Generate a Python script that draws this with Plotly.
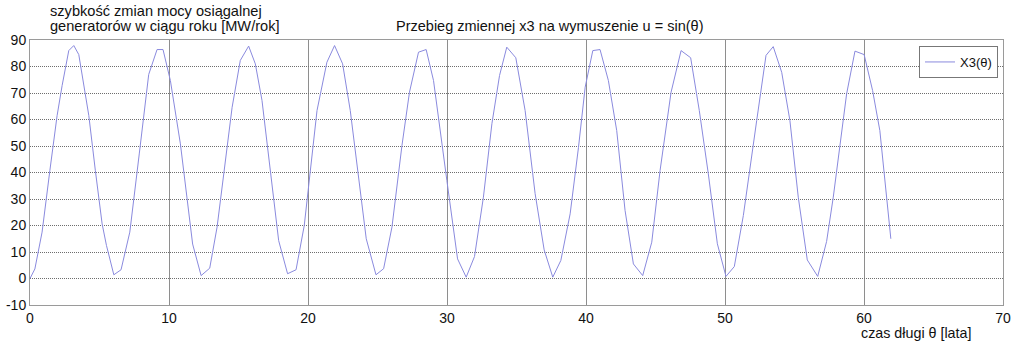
import plotly.graph_objects as go

# Simulated response x3(θ) for the input u = sin(θ)
theta = [0.00, 0.35, 0.87, 1.11, 1.43, 1.95, 2.31, 2.79, 3.15, 3.51, 3.87, 4.23, 4.70, 5.19, 5.50,
         6.03, 6.55, 7.18, 7.86, 8.54, 9.14, 9.57, 10.10, 10.82, 11.70,
         12.31, 12.93, 13.46, 14.54, 15.13, 15.73, 16.21, 16.69, 17.89,
         18.53, 19.14, 19.73, 20.65, 21.36, 21.91, 22.49, 23.04, 24.19,
         24.89, 25.44, 26.04, 26.76, 27.30, 27.95, 28.50, 29.03, 29.51, 29.99,
         30.76, 31.38, 31.98, 32.62, 33.23, 33.78, 34.30, 34.95, 35.62, 36.34,
         36.99, 37.61, 38.19, 38.86, 39.46, 39.94, 40.49, 41.01, 41.61, 42.21, 42.81,
         43.41, 44.08, 44.73, 45.33, 46.12, 46.84, 47.53, 48.15, 48.80,
         49.45, 50.07, 50.67, 51.32, 52.28, 52.95, 53.47, 54.08, 54.67, 55.27,
         55.92, 56.67, 57.31, 57.79, 58.75, 59.35, 60.01, 60.62, 61.14, 61.93]
x3 = [0.0, 3.6, 17.5, 28.0, 40.8, 61.5, 72.8, 86.0, 87.9, 84.5, 73.5, 61.5, 40.8, 20.6, 12.5,
      1.4, 3.3, 17.5, 47.0, 77.0, 86.4, 86.4, 74.7, 50.8, 13.0,
      1.1, 3.9, 19.4, 64.6, 82.3, 87.7, 81.0, 67.2, 14.3,
      1.8, 3.3, 20.0, 63.4, 81.6, 87.9, 81.0, 63.4, 15.0,
      1.4, 3.7, 19.4, 50.2, 70.3, 85.4, 86.4, 74.7, 55.0, 37.0,
      7.4, 0.5, 8.3, 30.7, 58.4, 76.6, 87.3, 83.3, 63.4, 32.0,
      10.8, 0.5, 6.8, 24.4, 49.5, 72.2, 86.0, 86.4, 74.7, 55.8, 25.7,
      5.5, 1.1, 13.7, 40.8, 70.3, 86.0, 83.3, 63.4, 39.5,
      13.1, 0.8, 4.5, 23.8, 59.6, 84.2, 87.5, 77.8, 59.6, 30.7,
      7.0, 0.8, 14.0, 30.7, 69.7, 85.8, 84.5, 70.9, 55.8, 15.0]

x_ticks = [0, 10, 20, 30, 40, 50, 60, 70]
y_ticks = [-10, 0, 10, 20, 30, 40, 50, 60, 70, 80, 90]

FONT = "Liberation Sans, Arial, sans-serif"
INK = "#111111"

# plot area: 973 x 265 px, starting at (30, 40)
L, R, T, B = 30, 15, 40, 41
W, H = 1018, 346
PW, PH = W - L - R, H - T - B


def px_x(px):
    return (px - L) / PW


def px_y(py):
    return (H - B - py) / PH


fig = go.Figure()
fig.add_trace(go.Scatter(
    x=theta, y=x3, mode="lines", name="X3(θ)",
    line=dict(color="#8a8ade", width=1),
))

fig.update_layout(
    width=W, height=H,
    margin=dict(l=L, r=R, t=T, b=B, autoexpand=False),
    paper_bgcolor="white", plot_bgcolor="white",
    font=dict(family=FONT, size=14, color=INK),
    showlegend=True,
    legend=dict(
        x=px_x(998), y=px_y(46), xanchor="right", yanchor="top",
        bordercolor="#777777", borderwidth=1, bgcolor="white",
        font=dict(family=FONT, size=13, color=INK),
        itemwidth=30, tracegroupgap=0,
    ),
    xaxis=dict(
        range=[0, 70], tickvals=x_ticks, ticktext=[str(v) for v in x_ticks],
        showgrid=True, gridcolor="#8e8e8e", gridwidth=1,
        showline=True, linecolor="#9a9a9a", linewidth=1, mirror=True,
        zeroline=False, ticks="", ticklen=0, automargin=False,
        tickfont=dict(family=FONT, size=14, color=INK),
    ),
    yaxis=dict(
        range=[-10, 90], tickvals=y_ticks, ticktext=[str(v) for v in y_ticks],
        showgrid=True, gridcolor="#6e6e6e", gridwidth=1, griddash="1px,1px",
        showline=True, linecolor="#9a9a9a", linewidth=1, mirror=True,
        zeroline=False, ticks="", ticklen=0, automargin=False,
        tickfont=dict(family=FONT, size=14, color=INK),
    ),
    annotations=[
        dict(text="Przebieg zmiennej x3 na wymuszenie u = sin(θ)",
             xref="paper", yref="paper", x=px_x(549), y=px_y(26),
             xanchor="center", yanchor="middle", showarrow=False,
             font=dict(family=FONT, size=14.5, color=INK)),
        dict(text="szybkość zmian mocy osiągalnej",
             xref="paper", yref="paper", x=px_x(48), y=px_y(11),
             xanchor="left", yanchor="middle", showarrow=False,
             font=dict(family=FONT, size=14.6, color=INK)),
        dict(text="generatorów w ciągu roku [MW/rok]",
             xref="paper", yref="paper", x=px_x(48), y=px_y(26),
             xanchor="left", yanchor="middle", showarrow=False,
             font=dict(family=FONT, size=14.6, color=INK)),
        dict(text="czas długi θ [lata]",
             xref="paper", yref="paper", x=px_x(859), y=px_y(333),
             xanchor="left", yanchor="middle", showarrow=False,
             font=dict(family=FONT, size=14.3, color=INK)),
    ],
)

fig.write_html("out.html")
